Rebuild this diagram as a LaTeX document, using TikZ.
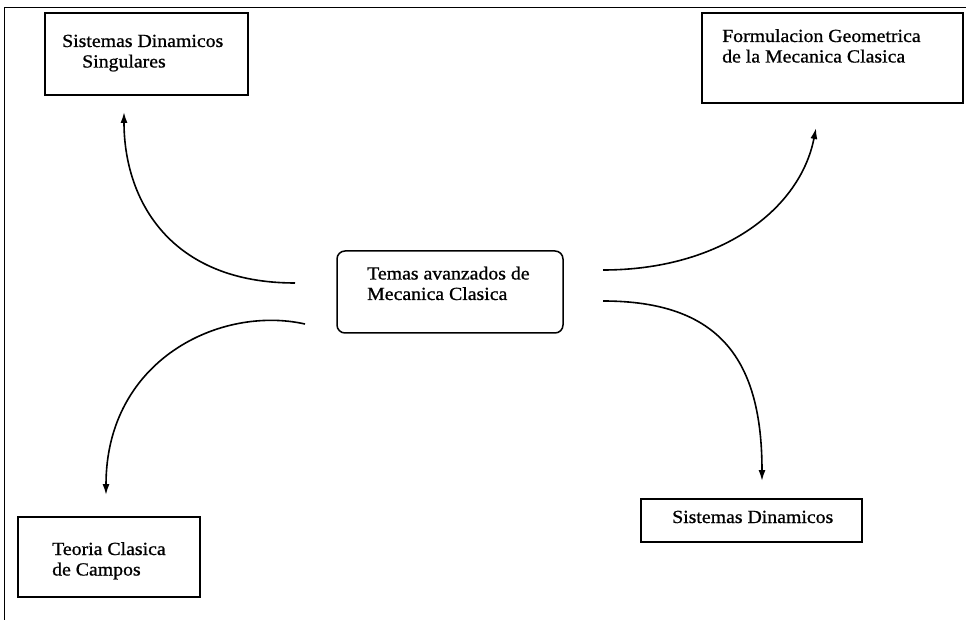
\documentclass[tikz,border=0pt]{standalone}
\usepackage{fontspec}
\setmainfont[FakeStretch=1.07,FakeBold=0.9]{Liberation Serif}
\usetikzlibrary{arrows.meta}
\begin{document}
\begin{tikzpicture}[x=1pt,y=-1pt,
  box/.style={draw, line width=1.5pt, rectangle, inner sep=0pt},
  lbl/.style={anchor=base west, inner sep=0pt, font=\fontsize{18.5}{20.5}\selectfont},
  conn/.style={line width=1.6pt, -{Latex[length=11pt,width=7pt]}}]
\useasboundingbox (0,0) rectangle (967,620);
% frame (top and left edges only)
\draw[line width=1pt] (4,620) -- (4,8) -- (966,8);
% boxes
\node[box, minimum width=203pt, minimum height=82pt] (b1) at (146.5,54) {};
\node[box, line width=2.8pt, minimum width=261pt, minimum height=90pt] (b2) at (832.5,58) {};
\node[box, rounded corners=8pt, minimum width=226pt, minimum height=82pt] (c) at (450,292) {};
\node[box, minimum width=182pt, minimum height=80pt] (b4) at (109,557) {};
\node[box, minimum width=221pt, minimum height=43pt] (b5) at (751.5,520.5) {};
% texts
\node[lbl] (t1) at (62,47) {\begin{tabular}[t]{@{}l@{}}Sistemas Dinamicos\\\hspace*{20pt}Singulares\end{tabular}};
\node[lbl] (t2) at (722,42) {\begin{tabular}[t]{@{}l@{}}Formulacion Geometrica\\de la Mecanica Clasica\end{tabular}};
\node[lbl] (tc) at (367,279.5) {\begin{tabular}[t]{@{}l@{}}Temas avanzados de\\Mecanica Clasica\end{tabular}};
\node[lbl] (t4) at (52,555) {\begin{tabular}[t]{@{}l@{}}Teoria Clasica\\de Campos\end{tabular}};
\node[lbl] (t5) at (672,523) {Sistemas Dinamicos};
% connector end points
\coordinate (aS) at (295,283);
\coordinate (aE) at (124,112);
\coordinate (bS) at (305,324);
\coordinate (bE) at (106,495);
\coordinate (cS) at (603,270);
\coordinate (cE) at (816,128);
\coordinate (dS) at (603,301);
\coordinate (dE) at (762,481);
% connectors
\draw[conn] (aS) .. controls (170,283) and (124,200) .. (aE);
\draw[conn] (bS) .. controls (220,305) and (106,360) .. (bE);
\draw[conn] (cS) .. controls (720,270) and (800,210) .. (cE);
\draw[conn] (dS) .. controls (720,301) and (762,360) .. (dE);
\end{tikzpicture}
\end{document}
